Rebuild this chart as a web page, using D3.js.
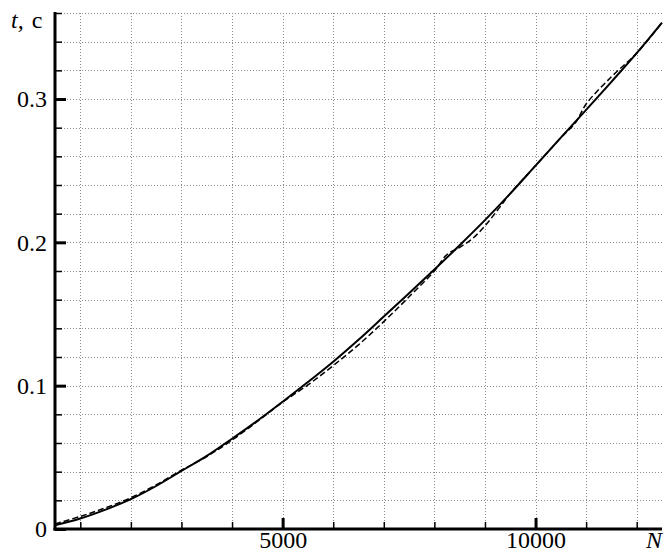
<!DOCTYPE html>
<html>
<head>
<meta charset="utf-8">
<script src="https://cdn.jsdelivr.net/npm/d3@7"></script>
<style>
  body { margin: 0; background: #fff; }
  svg { display: block; }
</style>
</head>
<body>
<svg id="chart" width="666" height="553"></svg>
<script>
// measured run time t (s) against problem size N
const sizes = [500, 1000, 1500, 2000, 2500, 3000, 3500, 4000, 4500, 5000, 5500, 6000,
  6500, 7000, 7500, 8000, 8500, 9000, 9500, 10000, 10500, 11000, 11500, 12000, 12500];
const timeSolid = [0.0026, 0.0073, 0.0135, 0.0208, 0.030, 0.0405, 0.051, 0.063, 0.0755, 0.0888,
  0.1025, 0.1167, 0.132, 0.1482, 0.1645, 0.181, 0.198, 0.2155, 0.234, 0.2535, 0.273,
  0.2924, 0.312, 0.332, 0.3533];

const sizesDashed = [500, 1000, 1500, 2000, 2500, 3000, 3500, 4000, 4500, 5000, 5500, 6000,
  6500, 7000, 7500, 8000, 8250, 8500, 8750, 9000, 9250, 9500, 10000, 10500, 10800, 11000,
  11500, 12000, 12500];
const timeDashed = [0.0035, 0.0088, 0.0148, 0.0218, 0.0308, 0.041, 0.0505, 0.062, 0.075, 0.0885,
  0.1005, 0.114, 0.1285, 0.1447, 0.162, 0.180, 0.1915, 0.1965, 0.2025, 0.2115, 0.2225,
  0.234, 0.2535, 0.273, 0.284, 0.2965, 0.3155, 0.332, 0.3533];

const xMajorTicks = [5000, 10000];
const xMinorTicks = [1000, 2000, 3000, 4000, 6000, 7000, 8000, 9000, 11000, 12000];
const yMajorTicks = [0, 0.1, 0.2, 0.3];
const yMinorTicks = [0.02, 0.04, 0.06, 0.08, 0.12, 0.14, 0.16, 0.18, 0.22, 0.24, 0.26, 0.28,
  0.32, 0.34, 0.36];
const xGrid = [1000, 2000, 3000, 4000, 5000, 6000, 7000, 8000, 9000, 10000, 11000, 12000];
const yGrid = [0.02, 0.04, 0.06, 0.08, 0.1, 0.12, 0.14, 0.16, 0.18, 0.2, 0.22, 0.24, 0.26,
  0.28, 0.3, 0.32, 0.34, 0.36];

const serif = "'Liberation Serif', 'Times New Roman', 'DejaVu Serif', serif";

const svg = d3.select("#chart");
const plotLeft = 55, plotRight = 662, plotTop = 13, plotBottom = 529;

const x = d3.scaleLinear().domain([500, 12500]).range([plotLeft, plotRight]);
const y = d3.scaleLinear().domain([0, 0.36]).range([plotBottom, plotTop]);

// dotted grid
const grid = svg.append("g")
  .attr("stroke", "#8a8a8a")
  .attr("stroke-width", 1)
  .attr("stroke-dasharray", "1,2");

grid.selectAll("line.v")
  .data(xGrid)
  .enter()
  .append("line")
  .attr("class", "v")
  .attr("x1", d => Math.round(x(d)) + 0.5)
  .attr("x2", d => Math.round(x(d)) + 0.5)
  .attr("y1", plotTop)
  .attr("y2", plotBottom);

grid.selectAll("line.h")
  .data(yGrid)
  .enter()
  .append("line")
  .attr("class", "h")
  .attr("x1", plotLeft)
  .attr("x2", plotRight)
  .attr("y1", d => Math.round(y(d)) + 0.5)
  .attr("y2", d => Math.round(y(d)) + 0.5);

// curves
const solidLine = d3.line()
  .x((d, i) => x(sizes[i]))
  .y(d => y(d))
  .curve(d3.curveCatmullRom.alpha(0.5));

const dashedLine = d3.line()
  .x((d, i) => x(sizesDashed[i]))
  .y(d => y(d))
  .curve(d3.curveCatmullRom.alpha(0.5));

svg.append("path")
  .datum(timeDashed)
  .attr("d", dashedLine)
  .attr("fill", "none")
  .attr("stroke", "#000")
  .attr("stroke-width", 1.5)
  .attr("stroke-dasharray", "6,3");

svg.append("path")
  .datum(timeSolid)
  .attr("d", solidLine)
  .attr("fill", "none")
  .attr("stroke", "#000")
  .attr("stroke-width", 2);

// axes, ticks pointing into the plot
const yMinor = svg.append("g")
  .attr("transform", `translate(${plotLeft},0)`)
  .call(d3.axisLeft(y).tickValues(yMinorTicks).tickSizeInner(-7).tickSizeOuter(0).tickFormat(""));

const yMajor = svg.append("g")
  .attr("transform", `translate(${plotLeft},0)`)
  .call(d3.axisLeft(y).tickValues(yMajorTicks).tickSizeInner(-11).tickSizeOuter(0)
    .tickPadding(8).tickFormat(d => d === 0 ? "0" : d3.format(".1f")(d)));

const xMinor = svg.append("g")
  .attr("transform", `translate(0,${plotBottom})`)
  .call(d3.axisBottom(x).tickValues(xMinorTicks).tickSizeInner(-7).tickSizeOuter(0).tickFormat(""));

const xMajor = svg.append("g")
  .attr("transform", `translate(0,${plotBottom})`)
  .call(d3.axisBottom(x).tickValues(xMajorTicks).tickSizeInner(-11).tickSizeOuter(0)
    .tickPadding(2).tickFormat(d3.format("d")));

[yMinor, xMinor].forEach(g => {
  g.select(".domain").remove();
  g.selectAll(".tick line").attr("stroke", "#000").attr("stroke-width", 1.5);
});

[yMajor, xMajor].forEach(g => {
  g.attr("font-family", serif).attr("font-size", 24);
  g.select(".domain").attr("stroke", "#000").attr("stroke-width", 3);
  g.selectAll(".tick line").attr("stroke", "#000").attr("stroke-width", 3);
  g.selectAll(".tick text")
    .attr("fill", "#000")
    .attr("font-family", serif)
    .attr("font-size", 24);
});

yMajor.select(".domain").attr("d", `M0,${plotBottom + 1.5}V${plotTop - 1}`);
xMajor.select(".domain").attr("d", `M${plotLeft - 1.5},0H${plotRight}`);

// axis titles
svg.append("text")
  .attr("x", plotRight)
  .attr("y", 548)
  .attr("text-anchor", "end")
  .attr("font-family", serif)
  .attr("font-size", 24)
  .attr("font-style", "italic")
  .text("N");

const yTitle = svg.append("text")
  .attr("x", 11)
  .attr("y", 28)
  .attr("font-family", serif)
  .attr("font-size", 24);
yTitle.append("tspan").attr("font-style", "italic").text("t,");
yTitle.append("tspan").attr("dx", 8).text("c");
</script>
</body>
</html>
